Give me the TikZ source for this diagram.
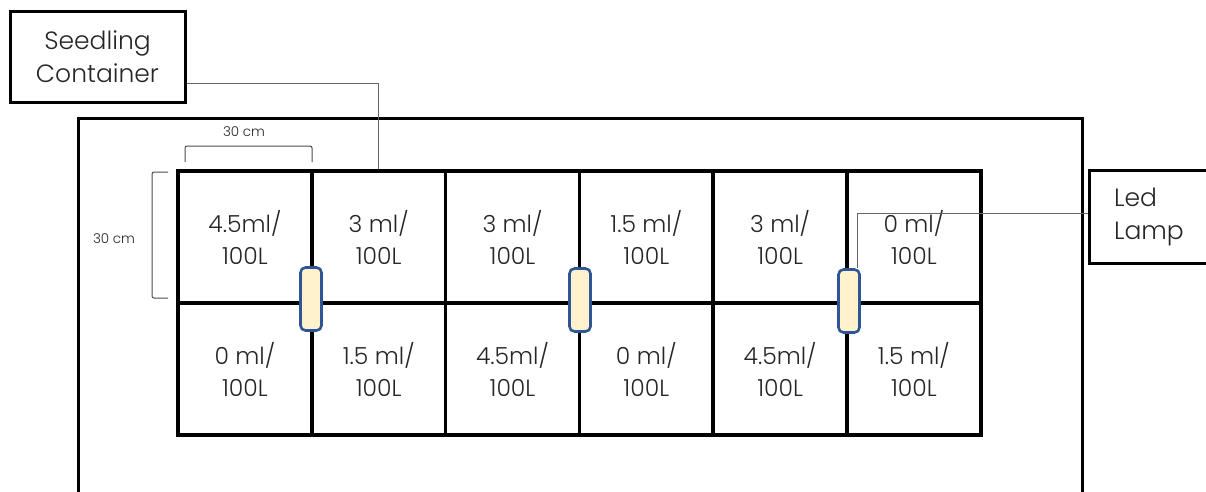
\documentclass[tikz,border=0pt]{standalone}
\usepackage{fontspec}
\setmainfont{Poppins}[UprightFont=* Light]
\usetikzlibrary{calc}
\definecolor{txt}{HTML}{262626}
\definecolor{lampfill}{HTML}{FFF2CC}
\definecolor{lampdraw}{HTML}{2F5597}
\tikzset{
  cell/.style={draw=black, line width=3.5pt, minimum width=134pt, minimum height=132pt, inner sep=0pt,
    align=center, text=txt, font=\fontsize{23.5}{32}\selectfont},
  labelbox/.style={draw=black, line width=3pt, inner sep=0pt, text=txt, font=\fontsize{25}{33}\selectfont},
  lampbox/.style={draw=lampdraw, fill=lampfill, line width=2.6pt, rounded corners=5pt, minimum width=21pt, minimum height=63pt, inner sep=0pt},
  conn/.style={draw=black!60, line width=1pt},
  dimtext/.style={text=txt, font=\fontsize{13.5}{15}\selectfont},
  bracket/.style={draw=black!70, line width=1pt, rounded corners=2pt}
}
\begin{document}
\begin{tikzpicture}[x=1pt,y=-1pt]
\useasboundingbox (0,0) rectangle (1206,491);
% outer frame
\draw[line width=3pt] (78,520) -- (78,118.5) -- (1082,118.5) -- (1082,520);
% cells
\foreach \i/\t in {0/{4.5ml/\\100L},1/{3 ml/\\100L},2/{3 ml/\\100L},3/{1.5 ml/\\100L},4/{3 ml/\\100L},5/{0 ml/\\100L}}
  \node[cell] (a\i) at ({178+133.8*\i+66.9},237) {\t};
\foreach \i/\t in {0/{0 ml/\\100L},1/{1.5 ml/\\100L},2/{4.5ml/\\100L},3/{0 ml/\\100L},4/{4.5ml/\\100L},5/{1.5 ml/\\100L}}
  \node[cell] (b\i) at ({178+133.8*\i+66.9},369) {\t};
% lamps
\node[lampbox] (lamp1) at (311,299) {};
\node[lampbox] (lamp2) at (580,300) {};
\node[lampbox] (lamp3) at (849,301) {};
% label boxes
\node[labelbox, minimum width=175pt, minimum height=91pt, align=center] (seed) at (97.5,57) {Seedling\\Container};
\node[labelbox, minimum width=130pt, minimum height=93pt, align=left, anchor=west, text width=100pt] (led) at (1087.5,217) {\hspace*{10pt}Led\\\hspace*{10pt}Lamp};
% connectors
\coordinate (s1) at (seed.east |- 0,83);
\draw[conn] (s1) -| (a1.north);
\coordinate (l1) at (led.west |- 0,213);
\coordinate (l2) at (857,268);
\draw[conn] (l1) -| (l2);
% dimensions
\draw[bracket] (185,162) -- (185,146) -- (312,146) -- (312,162);
\node[dimtext] (dw) at (244,132) {30 cm};
\draw[bracket] (168,172) -- (152,172) -- (152,298) -- (168,298);
\node[dimtext] (dh) at (114,239) {30 cm};
\end{tikzpicture}
\end{document}
